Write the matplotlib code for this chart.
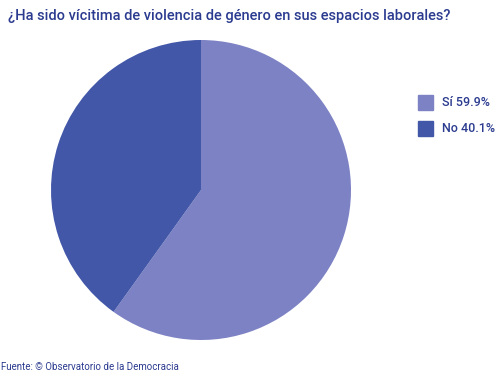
import matplotlib.pyplot as plt
from matplotlib.patches import Rectangle

labels = ["Sí 59.9%", "No 40.1%"]
values = [59.9, 40.1]
colors = ["#7d82c4", "#4257a8"]

plt.rcParams["font.family"] = ["Roboto", "DejaVu Sans"]

fig = plt.figure(figsize=(4.98, 3.76), dpi=100)
W, H = 498, 376

# pie: centre ~(201,190), radius ~150 px
ax = fig.add_axes([51 / W, (H - 340) / H, 300 / W, 300 / H])
ax.pie(values, colors=colors, startangle=90, counterclock=False,
       wedgeprops={"linewidth": 0})
ax.set_aspect("equal")
ax.set_xlim(-1, 1)
ax.set_ylim(-1, 1)

fig.text(8 / W, 1 - 16 / H, "¿Ha sido vícitima de violencia de género en sus espacios laborales?",
         fontsize=10.5, color="#2b3b8f", fontweight="medium", va="center", ha="left")
fig.text(1 / W, 1 - 367 / H, "Fuente: © Observatorio de la Democracia",
         fontsize=7, color="#2b3b8f", va="center", ha="left")

# legend
for i, (lab, c) in enumerate(zip(labels, colors)):
    y = 95 + i * 26
    fig.patches.append(Rectangle((418 / W, 1 - (y + 15) / H), 15 / W, 15 / H,
                                 transform=fig.transFigure, color=c, figure=fig))
    fig.text(442 / W, 1 - (y + 7.5) / H, lab, fontsize=9, color="#2b3b8f",
             fontweight="medium", va="center", ha="left")

fig.savefig("out.png", dpi=100)
